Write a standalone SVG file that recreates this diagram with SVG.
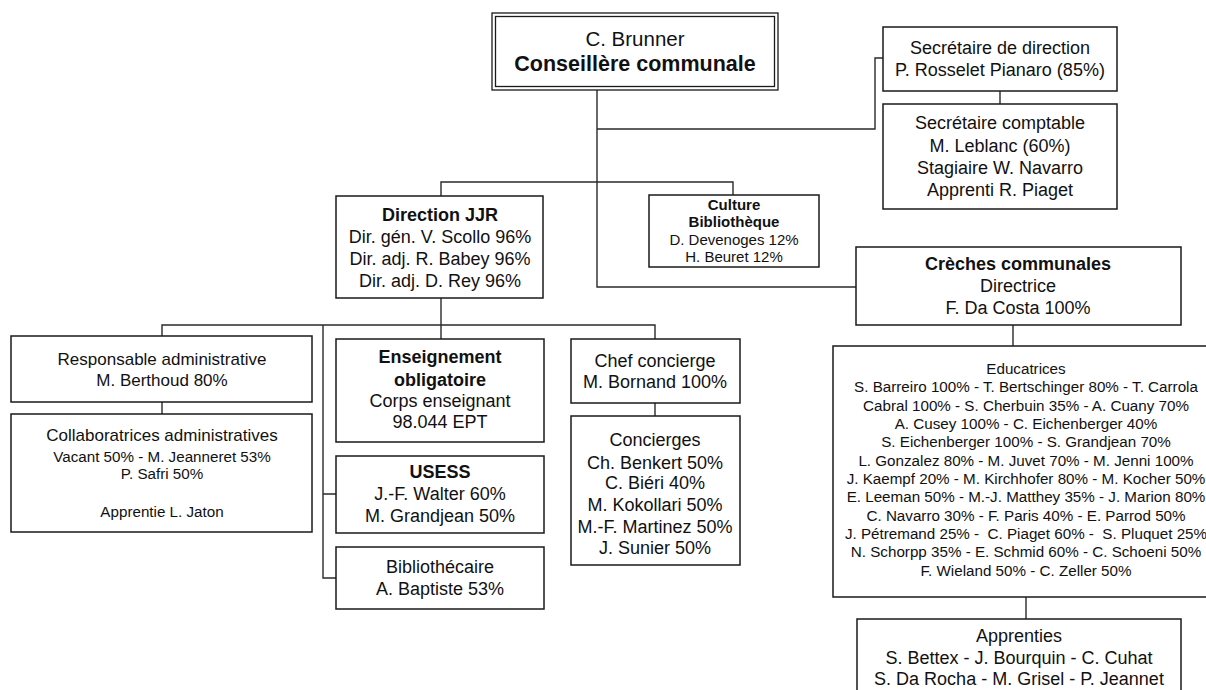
<svg xmlns="http://www.w3.org/2000/svg" width="1206" height="690" viewBox="0 0 1206 690">
<style>
.box{fill:#fff;stroke:#1a1a1a;stroke-width:1.5}
.ln{fill:none;stroke:#2a2a2a;stroke-width:1.4}
text{font-family:"Liberation Sans",Arial,sans-serif;fill:#111;text-anchor:middle}
.t18{font-size:18px}
.t17{font-size:17px}
.t15{font-size:15.2px}
.t14{font-size:15px}
.b{font-weight:bold}
</style>
<rect width="1206" height="690" fill="#fff"/>
<g id="connectors">
<path class="ln" d="M597,90 V287 H857"/>
<path class="ln" d="M597,129 H875 V58 H883"/>
<path class="ln" d="M1000,91 V104"/>
<path class="ln" d="M441,196 V182 H733 V195"/>
<path class="ln" d="M441,298 V339"/>
<path class="ln" d="M162,336 V325 H655 V339"/>
<path class="ln" d="M323,325 V578 H336 M323,494 H336"/>
<path class="ln" d="M162,402 V414"/>
<path class="ln" d="M655,403 V416"/>
<path class="ln" d="M1013,325 V346"/>
<path class="ln" d="M1026,597 V619"/>
</g>
<g id="brunner">
<rect x="492" y="13" width="286" height="77" fill="#fff" stroke="#1a1a1a" stroke-width="1.3"/>
<rect x="495.5" y="16.5" width="279" height="70" fill="none" stroke="#1a1a1a" stroke-width="1.3"/>
<text x="635" y="46" style="font-size:20.5px">C. Brunner</text>
<text x="635" y="71" class="b" style="font-size:21.5px">Conseillère communale</text>
</g>
<g id="secretaire-direction">
<rect class="box" x="883" y="27" width="234" height="64"/>
<text x="1000" y="54" class="t18">Secrétaire de direction</text>
<text x="1000" y="76" class="t18">P. Rosselet Pianaro (85%)</text>
</g>
<g id="secretaire-comptable">
<rect class="box" x="883" y="104" width="234" height="105"/>
<text x="1000" y="129" class="t18">Secrétaire comptable</text>
<text x="1000" y="152" class="t18">M. Leblanc (60%)</text>
<text x="1000" y="174" class="t18">Stagiaire W. Navarro</text>
<text x="1000" y="196" class="t18">Apprenti R. Piaget</text>
</g>
<g id="direction-jjr">
<rect class="box" x="336" y="196" width="207" height="102"/>
<text x="440" y="221" class="t18 b">Direction JJR</text>
<text x="440" y="243" class="t18">Dir. gén. V. Scollo 96%</text>
<text x="440" y="265" class="t18">Dir. adj. R. Babey 96%</text>
<text x="440" y="287" class="t18">Dir. adj. D. Rey 96%</text>
</g>
<g id="culture">
<rect class="box" x="649" y="195" width="170" height="72"/>
<text x="734" y="210" class="t14 b">Culture</text>
<text x="734" y="227" class="t14 b">Bibliothèque</text>
<text x="734" y="245" class="t14">D. Devenoges 12%</text>
<text x="734" y="262" class="t14">H. Beuret 12%</text>
</g>
<g id="creches">
<rect class="box" x="856" y="247" width="325" height="78"/>
<text x="1018" y="270" class="t18 b">Crèches communales</text>
<text x="1018" y="292" class="t18">Directrice</text>
<text x="1018" y="314" class="t18">F. Da Costa 100%</text>
</g>
<g id="educatrices">
<rect class="box" x="833" y="346" width="386" height="251"/>
<text x="1026" y="374" class="t15">Educatrices</text>
<text x="1026" y="392" class="t15">S. Barreiro 100% - T. Bertschinger 80% - T. Carrola</text>
<text x="1026" y="411" class="t15">Cabral 100% - S. Cherbuin 35% - A. Cuany 70%</text>
<text x="1026" y="429" class="t15">A. Cusey 100% - C. Eichenberger 40%</text>
<text x="1026" y="447" class="t15">S. Eichenberger 100% - S. Grandjean 70%</text>
<text x="1026" y="466" class="t15">L. Gonzalez 80% - M. Juvet 70% - M. Jenni 100%</text>
<text x="1026" y="484" class="t15">J. Kaempf 20% - M. Kirchhofer 80% - M. Kocher 50%</text>
<text x="1026" y="502" class="t15">E. Leeman 50% - M.-J. Matthey 35% - J. Marion 80%</text>
<text x="1026" y="521" class="t15">C. Navarro 30% - F. Paris 40% - E. Parrod 50%</text>
<text x="1026" y="539" class="t15" xml:space="preserve">J. Pétremand 25% -  C. Piaget 60% -  S. Pluquet 25%</text>
<text x="1026" y="557" class="t15">N. Schorpp 35% - E. Schmid 60% - C. Schoeni 50%</text>
<text x="1026" y="576" class="t15">F. Wieland 50% - C. Zeller 50%</text>
</g>
<g id="apprenties">
<rect class="box" x="857" y="619" width="324" height="90"/>
<text x="1019" y="642" class="t18">Apprenties</text>
<text x="1019" y="664" class="t18">S. Bettex - J. Bourquin - C. Cuhat</text>
<text x="1019" y="685" class="t18">S. Da Rocha - M. Grisel - P. Jeannet</text>
</g>
<g id="responsable-admin">
<rect class="box" x="11" y="336" width="301" height="66"/>
<text x="162" y="365" class="t17">Responsable administrative</text>
<text x="162" y="386" class="t17">M. Berthoud 80%</text>
</g>
<g id="collaboratrices">
<rect class="box" x="11" y="414" width="301" height="118"/>
<text x="162" y="441" class="t17">Collaboratrices administratives</text>
<text x="162" y="462" class="t15">Vacant 50% - M. Jeanneret 53%</text>
<text x="162" y="479" class="t15">P. Safri 50%</text>
<text x="162" y="517" class="t15">Apprentie L. Jaton</text>
</g>
<g id="enseignement">
<rect class="box" x="336" y="339" width="208" height="103"/>
<text x="440" y="363" class="t18 b">Enseignement</text>
<text x="440" y="386" class="t18 b">obligatoire</text>
<text x="440" y="407" class="t18">Corps enseignant</text>
<text x="440" y="428" class="t18">98.044 EPT</text>
</g>
<g id="usess">
<rect class="box" x="336" y="456" width="208" height="77"/>
<text x="440" y="478" class="t18 b">USESS</text>
<text x="440" y="500" class="t18">J.-F. Walter 60%</text>
<text x="440" y="522" class="t18">M. Grandjean 50%</text>
</g>
<g id="bibliothecaire">
<rect class="box" x="336" y="547" width="208" height="62"/>
<text x="440" y="573" class="t18">Bibliothécaire</text>
<text x="440" y="595" class="t18">A. Baptiste 53%</text>
</g>
<g id="chef-concierge">
<rect class="box" x="571" y="339" width="169" height="64"/>
<text x="655" y="367" class="t18">Chef concierge</text>
<text x="655" y="388" class="t18">M. Bornand 100%</text>
</g>
<g id="concierges">
<rect class="box" x="571" y="416" width="169" height="149"/>
<text x="655" y="446" class="t18">Concierges</text>
<text x="655" y="469" class="t18">Ch. Benkert 50%</text>
<text x="655" y="489" class="t18">C. Biéri 40%</text>
<text x="655" y="511" class="t18">M. Kokollari 50%</text>
<text x="655" y="533" class="t18">M.-F. Martinez 50%</text>
<text x="655" y="554" class="t18">J. Sunier 50%</text>
</g>
</svg>
